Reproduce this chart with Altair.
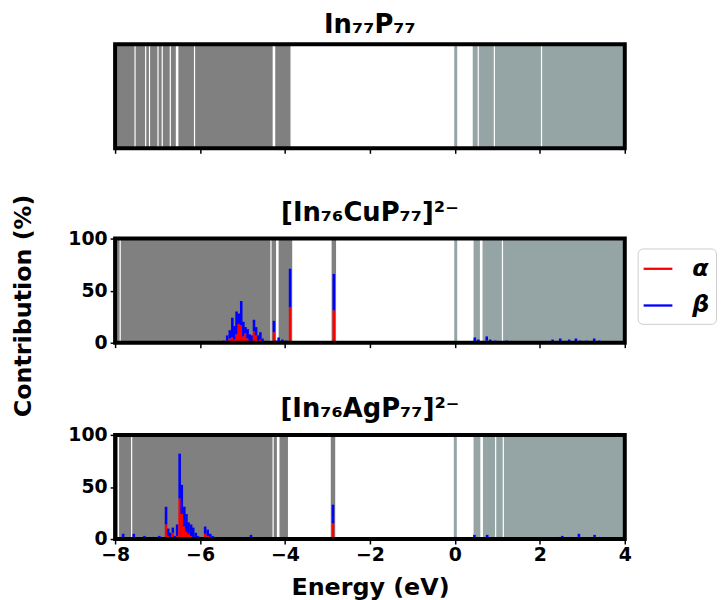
import altair as alt
import pandas as pd

W, H = 514, 105

x_ticks = [-8, -6, -4, -2, 0, 2, 4]
y_ticks = [0, 50, 100]
spin_labels = ["α", "β"]
spin_colors = ["#ff0000", "#0000ff"]
occ_color = "#808080"
unocc_color = "#95a5a6"

titles = ["In₇₇P₇₇", "[In₇₆CuP₇₇]²⁻", "[In₇₆AgP₇₇]²⁻"]
y_title = "Contribution (%)"
x_title = "Energy (eV)"

# orbital bands (eV)
occ_end = [-3.87, -3.83, -3.93]
unocc_start = [0.42, 0.44, 0.44]
lumo = [0.02, 0.02, 0.01]
homo = [None, -2.85, -2.87]
thin_gaps = [
    [-7.53, -7.28, -7.19, -6.99, -6.89, -6.70, -6.13, 0.55, 0.93, 2.04],
    [-7.88, -4.33, 1.12],
    [-7.92, -7.61, -4.28, 0.96, 1.14],
]
thick_gaps = [
    [-6.54, -4.26],
    [-4.18, 0.62],
    [-4.16, 0.63],
]

# [In76CuP77]2- contributions
cu_energy = [-6.13, -5.75, -5.62, -5.50, -5.44, -5.36, -5.30, -5.24, -5.19, -5.14,
             -5.09, -5.03, -4.98, -4.93, -4.88, -4.83, -4.78, -4.73, -4.68, -4.63,
             -4.58, -4.53, -4.45, -4.40, -4.26, -4.20, -4.15, -4.06, -3.97, -3.88,
             -2.85, 0.01, 0.47, 0.55, 0.75, 0.83, 0.95, 1.22, 1.60, 2.10,
             2.30, 2.48, 2.69, 2.85, 2.95, 3.10, 3.28, 3.40]
cu_alpha = [0, 0, 0, 0, 0, 2, 4, 5, 3, 8,
            18, 17, 6, 9, 4, 2, 1, 11, 7, 2,
            3, 1, 0, 0, 10, 0, 1, 0, 0, 34,
            31, 0, 1, 0, 2, 0, 0, 0, 0, 0,
            0, 1, 0, 1, 0, 0, 1, 0]
cu_beta = [1, 1, 1, 1, 2, 5, 8, 19, 13, 22,
           10, 23, 14, 6, 9, 6, 6, 11, 8, 5,
           7, 3, 1, 1, 11, 2, 4, 3, 2, 37,
           35, 1, 4, 3, 4, 3, 2, 2, 1, 1,
           3, 3, 3, 3, 2, 2, 3, 2]

# [In76AgP77]2- contributions
ag_energy = [-7.81, -7.56, -7.31, -7.10, -6.96, -6.91, -6.80, -6.75, -6.70, -6.64,
             -6.59, -6.54, -6.48, -6.43, -6.37, -6.32, -6.27, -6.21, -6.16, -6.10,
             -6.05, -5.88, -5.82, -5.76, -5.70, -5.64, -4.80, -4.70, -4.60, -4.35,
             -4.05, -2.87, 0.01, 0.46, 0.52, 0.76, 1.00, 1.20, 1.83, 2.30,
             2.43, 2.53, 2.70, 2.92, 3.05, 3.15, 3.29, 3.40]
ag_alpha = [2, 2, 0, 0, 0, 0, 14, 3, 2, 6,
            1, 3, 39, 24, 12, 7, 5, 3, 2, 1,
            0, 5, 3, 2, 1, 0, 1, 0, 0, 0,
            0, 15, 0, 1, 0, 1, 0, 0, 0, 0,
            0, 0, 0, 2, 0, 0, 2, 0]
ag_beta = [3, 3, 3, 2, 3, 2, 17, 7, 4, 5,
           2, 11, 43, 28, 19, 17, 11, 11, 9, 5,
           3, 7, 6, 3, 2, 1, 3, 1, 1, 2,
           2, 18, 2, 3, 1, 3, 1, 1, 1, 1,
           2, 3, 2, 3, 1, 1, 2, 2]

FONT = "DejaVu Sans"


def bar_frame(energy, alpha, beta):
    rows = []
    for e, a, b in zip(energy, alpha, beta):
        rows.append({"E": e, "spin": spin_labels[0], "y0": 0, "y1": a})
        rows.append({"E": e, "spin": spin_labels[1], "y0": a, "y1": a + b})
    return pd.DataFrame(rows)


def x_axis(show_labels):
    kw = dict(values=x_ticks, domain=False, ticks=True, tickSize=5, tickWidth=1.5,
              tickColor="black", grid=False, format="d", labelFlush=False)
    if show_labels:
        kw.update(labels=True, labelFontSize=19, labelFontWeight="bold", labelColor="black",
                  labelPadding=2, title=x_title, titleFontSize=24, titleFontWeight="bold",
                  titleColor="black", titlePadding=11)
    else:
        kw.update(labels=False, title=None)
    return alt.Axis(**kw)


xscale = alt.Scale(domain=[-8, 4], nice=False, zero=False, padding=0)


def panel(i, bars=None, legend=None):
    xa = x_axis(i == 2)
    bands = pd.DataFrame({"start": [-8, unocc_start[i]], "end": [occ_end[i], 4]})
    occ = alt.Chart(bands.iloc[[0]]).mark_rect(color=occ_color).encode(
        x=alt.X("start:Q", scale=xscale, axis=xa), x2="end:Q",
        y=alt.value(0), y2=alt.value(H))
    unocc = alt.Chart(bands.iloc[[1]]).mark_rect(color=unocc_color).encode(
        x=alt.X("start:Q", scale=xscale, axis=xa), x2="end:Q",
        y=alt.value(0), y2=alt.value(H))
    layers = [occ, unocc]
    layers.append(alt.Chart(pd.DataFrame({"E": [lumo[i]]})).mark_rule(
        color=unocc_color, strokeWidth=3).encode(x=alt.X("E:Q", scale=xscale, axis=xa)))
    if homo[i] is not None:
        layers.append(alt.Chart(pd.DataFrame({"E": [homo[i]]})).mark_rule(
            color=occ_color, strokeWidth=4.5).encode(x=alt.X("E:Q", scale=xscale, axis=xa)))
    layers.append(alt.Chart(pd.DataFrame({"E": thin_gaps[i]})).mark_rule(
        color="white", strokeWidth=1.2).encode(x=alt.X("E:Q", scale=xscale, axis=xa)))
    layers.append(alt.Chart(pd.DataFrame({"E": thick_gaps[i]})).mark_rule(
        color="white", strokeWidth=2.6).encode(x=alt.X("E:Q", scale=xscale, axis=xa)))
    if bars is not None:
        yaxis = alt.Axis(values=y_ticks, domain=False, tickSize=5, tickWidth=1.5,
                         tickColor="black", grid=False, labelFontSize=19,
                         labelFontWeight="bold", labelColor="black", labelPadding=3,
                         labelFlush=False, title=None)
        layers.append(alt.Chart(bars).mark_bar(width=2.6).encode(
            x=alt.X("E:Q", scale=xscale, axis=xa),
            y=alt.Y("y0:Q", scale=alt.Scale(domain=[0, 100], nice=False, padding=0), axis=yaxis),
            y2="y1:Q",
            color=alt.Color("spin:N", scale=alt.Scale(domain=spin_labels, range=spin_colors),
                            legend=legend),
        ))
    layers.append(alt.Chart(pd.DataFrame({"k": [0]})).mark_rect(
        fill="transparent", stroke="black", strokeWidth=4).encode(
        x=alt.value(0), x2=alt.value(W), y=alt.value(0), y2=alt.value(H)))
    return alt.layer(*layers).properties(
        width=W, height=H,
        title=alt.TitleParams(titles[i], fontSize=26, fontWeight="bold", font=FONT,
                              color="black", offset=4, anchor="middle"))


legend = alt.Legend(title=None, orient="none", legendX=W + 13, legendY=10,
                    symbolType="M-1,-0.08H1V0.08H-1Z", symbolSize=841, symbolStrokeWidth=0,
                    labelFontSize=24, labelFontWeight="bold", labelFontStyle="italic",
                    labelColor="black", labelOffset=20, rowPadding=10, padding=6,
                    cornerRadius=5, strokeColor="#cccccc", fillColor="white")

p1 = panel(0)
p2 = panel(1, bar_frame(cu_energy, cu_alpha, cu_beta), legend=legend)
p3 = panel(2, bar_frame(ag_energy, ag_alpha, ag_beta), legend=None)

upper = alt.vconcat(p1, p2, spacing=46).resolve_legend(color="independent")
chart = alt.vconcat(upper, p3, spacing=44).resolve_legend(color="independent").properties(
    title=alt.TitleParams(y_title, orient="left", anchor="middle", fontSize=24,
                          fontWeight="bold", font=FONT, color="black", offset=32),
    padding={"left": 4, "top": 2, "right": 0, "bottom": 0},
).configure(font=FONT).configure_view(stroke=None)

chart.save("out.html", embed_options={"renderer": "svg", "actions": False})
